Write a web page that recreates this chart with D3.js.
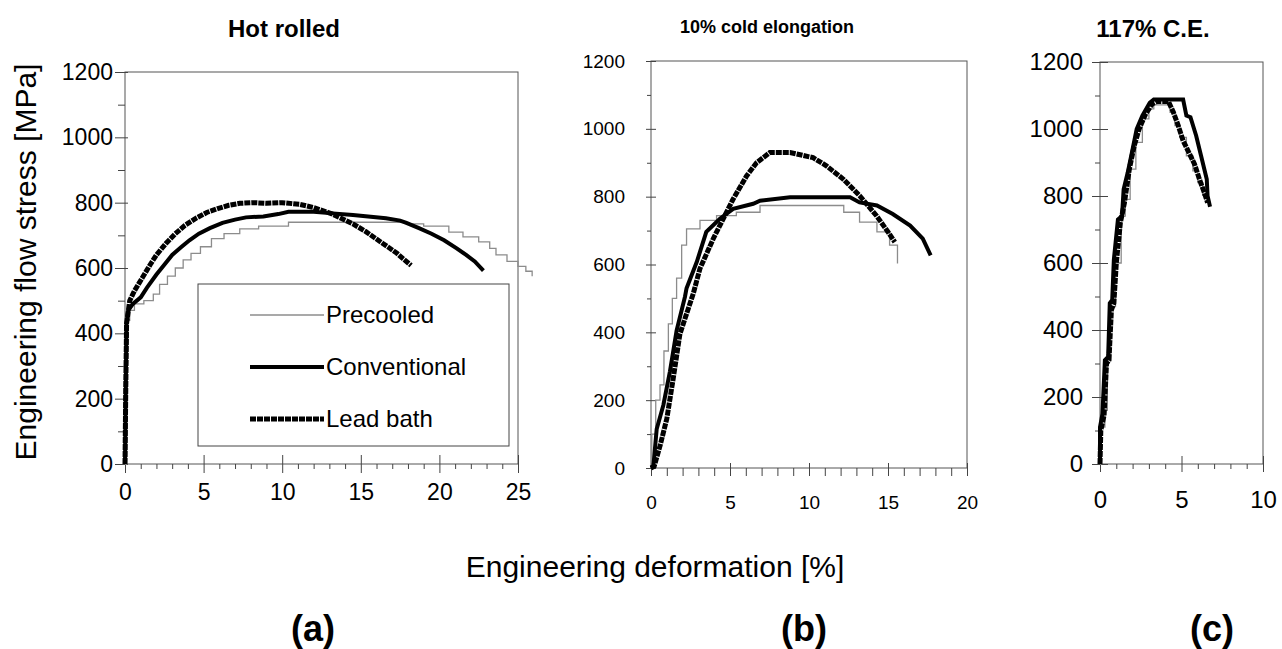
<!DOCTYPE html>
<html>
<head>
<meta charset="utf-8">
<script src="https://cdn.jsdelivr.net/npm/d3@7"></script>
<style>
  body { margin: 0; background: #fff; }
  svg { display: block; font-family: "Liberation Sans", Arial, sans-serif; }
</style>
</head>
<body>
<div id="chart"></div>
<script>
// ---- data ----
const seriesNames = ["Precooled", "Conventional", "Lead bath"];
const panelTitles = ["Hot rolled", "10% cold elongation", "117% C.E."];
const panelLetters = ["(a)", "(b)", "(c)"];
const yTicks = [0, 200, 400, 600, 800, 1000, 1200];
const xTicksA = [0, 5, 10, 15, 20, 25];
const xTicksB = [0, 5, 10, 15, 20];
const xTicksC = [0, 5, 10];

// [engineering deformation %, engineering flow stress MPa]
const hotPrecooled = [[0,0],[0.1,0],[0.1,230],[0.15,440],[0.3,470],[0.6,490],[1.2,500],[1.8,520],[2.2,550],
  [2.7,575],[3.2,600],[3.7,625],[4.2,645],[4.8,665],[5.5,690],[6.3,705],[7.3,720],[8.5,728],[10.4,740],
  [12,740],[14,740],[16,740],[17.9,735],[19,728],[20.6,710],[21.5,695],[22.5,680],[23.2,660],[23.6,640],
  [24.3,620],[25,605],[25.5,590],[25.9,575]];
const hotConventional = [[0,0],[0.05,240],[0.1,430],[0.2,470],[0.5,490],[1,510],[1.4,540],[2,580],[2.5,610],
  [3,640],[3.6,665],[4.1,685],[4.7,705],[5.4,722],[6.2,738],[7,748],[7.7,755],[8.8,758],[9.75,765],
  [10.4,772],[12,772],[13,768],[14.5,762],[16.6,752],[17.5,745],[17.9,738],[18.7,722],[19.5,705],
  [20.3,685],[21.1,660],[21.7,640],[22.25,620],[22.8,592]];
const hotLeadBath = [[0,0],[0.05,235],[0.1,430],[0.3,500],[0.6,530],[1.1,570],[1.6,610],[2,640],[2.6,675],
  [3.2,705],[3.8,730],[4.5,752],[5.2,770],[5.9,782],[6.6,792],[7.3,798],[8.2,800],[9,798],[10,800],
  [11.1,795],[12,785],[13.2,765],[14.5,735],[15.3,712],[15.9,692],[16.4,675],[16.8,662],[17.3,645],
  [17.7,628],[18.2,608]];

const ce10Precooled = [[0,0],[0.05,100],[0.3,200],[0.57,245],[0.82,345],[1.1,425],[1.35,500],[1.62,560],
  [1.94,657],[2.25,705],[3.1,730],[4.15,744],[5.4,754],[6.9,774],[11.1,774],[12.2,754],[13.2,725],
  [14.3,696],[15.1,657],[15.6,603]];
const ce10Conventional = [[0,0],[0.15,5],[0.36,115],[0.78,185],[1.2,285],[1.62,405],[2.15,505],[2.25,530],
  [2.9,608],[3.5,696],[4.36,735],[5.2,764],[6.47,779],[6.9,788],[8.8,798],[12.6,798],[13.2,783],
  [14.3,774],[15.3,749],[16.4,715],[17.2,676],[17.7,627]];
const ce10LeadBath = [[0,0],[0.2,5],[0.57,65],[1,145],[1.41,265],[1.83,395],[2.68,515],[3.1,588],[3.94,676],
  [5.2,793],[6.05,861],[6.68,900],[7.52,930],[8.8,930],[10.26,915],[11.1,891],[12.16,852],[13.2,803],
  [14.27,744],[15,696],[15.43,666]];

const ce117Precooled = [[0,0],[0.05,110],[0.3,160],[0.45,310],[0.65,470],[0.95,600],[1.3,740],[1.55,790],
  [1.85,880],[2.2,960],[2.6,1030],[3,1060],[3.3,1072],[3.9,1072],[4.3,1050],[4.6,1010],[4.9,975],
  [5.3,920],[5.7,875],[6,840],[6.3,800]];
const ce117Conventional = [[0,0],[0,110],[0.15,150],[0.3,310],[0.5,320],[0.6,480],[0.75,490],[0.85,610],
  [1.1,730],[1.35,740],[1.45,820],[1.7,870],[2,940],[2.25,1000],[2.6,1040],[3.05,1078],[3.3,1088],
  [5.1,1088],[5.3,1040],[5.55,1035],[5.9,980],[6.2,920],[6.55,850],[6.6,800],[6.75,768]];
const ce117LeadBath = [[0,0],[0.05,100],[0.25,145],[0.4,300],[0.55,310],[0.7,460],[0.85,480],[1,600],
  [1.25,720],[1.5,780],[1.8,880],[2.1,950],[2.4,1000],[2.8,1045],[3.2,1075],[3.5,1082],[4.2,1082],
  [4.5,1050],[4.8,1010],[5.1,965],[5.5,925],[5.8,895],[6.1,850],[6.4,810],[6.6,780]];

// ---- styles ----
const lineStyle = {
  "Precooled":    { stroke: "#8c8c8c", width: 1.3, dash: null,  curve: d3.curveStepAfter },
  "Conventional": { stroke: "#000",    width: 4,   dash: null,  curve: d3.curveLinear },
  "Lead bath":    { stroke: "#000",    width: 5,   dash: "6,1", curve: d3.curveLinear }
};

const W = 1282, H = 649;
const svg = d3.select("#chart").append("svg").attr("width", W).attr("height", H);

const panels = [
  { left: 125, right: 518, top: 72, bottom: 464, xMax: 25, xTicks: xTicksA, font: 23,
    yPad: 12, xPad: 20, majOut: 10, majIn: 3, minor: 7, xMajIn: 9, xMajOut: 9, xMinor: 5,
    title: panelTitles[0], titleSize: 24, titleX: 284, titleY: 37,
    data: [hotPrecooled, hotConventional, hotLeadBath] },
  { left: 651, right: 967, top: 61, bottom: 468, xMax: 20, xTicks: xTicksB, font: 19,
    yPad: 26, xPad: 28, majOut: 5, majIn: 5, minor: 4, xMajIn: 5, xMajOut: 8, xMinor: 8,
    title: panelTitles[1], titleSize: 18, titleX: 767, titleY: 33,
    data: [ce10Precooled, ce10Conventional, ce10LeadBath] },
  { left: 1100, right: 1263, top: 62, bottom: 464, xMax: 10, xTicks: xTicksC, font: 24,
    yPad: 17, xPad: 27, majOut: 8, majIn: 8, minor: 5, xMajIn: 8, xMajOut: 8, xMinor: 5,
    title: panelTitles[2], titleSize: 24, titleX: 1153, titleY: 37,
    data: [ce117Precooled, ce117Conventional, ce117LeadBath] }
];

const minorY = d3.range(100, 1200, 200);
const fmt = d3.format("d");

panels.forEach(p => {
  const x = d3.scaleLinear().domain([0, p.xMax]).range([p.left, p.right]);
  const y = d3.scaleLinear().domain([0, 1200]).range([p.bottom, p.top]);
  const minorX = d3.range(0, p.xMax + 0.001, 1).filter(v => v % 5 !== 0);
  const g = svg.append("g");

  // plot frame
  g.append("rect")
    .attr("x", p.left).attr("y", p.top)
    .attr("width", p.right - p.left).attr("height", p.bottom - p.top)
    .attr("fill", "none").attr("stroke", "#555").attr("stroke-width", 1);

  // y axis: major ticks with labels, inner half of major ticks, minor ticks
  g.append("g").attr("transform", `translate(${p.left},0)`)
    .call(d3.axisLeft(y).tickValues(yTicks).tickFormat(fmt)
      .tickSize(p.majOut).tickPadding(p.yPad - p.majOut));
  g.append("g").attr("transform", `translate(${p.left},0)`)
    .call(d3.axisRight(y).tickValues(yTicks).tickSize(p.majIn).tickFormat(""));
  g.append("g").attr("transform", `translate(${p.left},0)`)
    .call(d3.axisLeft(y).tickValues(minorY).tickSize(p.minor).tickFormat(""));

  // x axis
  g.append("g").attr("transform", `translate(0,${p.bottom})`)
    .call(d3.axisBottom(x).tickValues(p.xTicks).tickFormat(fmt)
      .tickSize(p.xMajOut).tickPadding(p.xPad - p.xMajOut));
  g.append("g").attr("transform", `translate(0,${p.bottom})`)
    .call(d3.axisTop(x).tickValues(p.xTicks).tickSize(p.xMajIn).tickFormat(""));
  g.append("g").attr("transform", `translate(0,${p.bottom})`)
    .call(d3.axisBottom(x).tickValues(minorX).tickSize(p.xMinor).tickFormat(""));

  g.selectAll(".domain").remove();
  g.selectAll(".tick line").attr("stroke", "#444");
  g.selectAll(".tick text")
    .style("font-family", '"Liberation Sans", Arial, sans-serif')
    .style("font-size", p.font + "px")
    .attr("fill", "#000");

  // curves
  seriesNames.forEach((name, i) => {
    const s = lineStyle[name];
    const line = d3.line().x(d => x(d[0])).y(d => y(d[1])).curve(s.curve);
    g.append("path")
      .datum(p.data[i])
      .attr("d", line)
      .attr("fill", "none")
      .attr("stroke", s.stroke)
      .attr("stroke-width", s.width)
      .attr("stroke-dasharray", s.dash)
      .attr("stroke-linejoin", "miter");
  });

  // panel title
  svg.append("text")
    .attr("x", p.titleX).attr("y", p.titleY)
    .attr("text-anchor", "middle")
    .style("font-size", p.titleSize + "px")
    .style("font-weight", "bold")
    .text(p.title);
});

// legend (inside panel a)
const legend = svg.append("g");
legend.append("rect")
  .attr("x", 198).attr("y", 284).attr("width", 311).attr("height", 162)
  .attr("fill", "#fff").attr("stroke", "#444").attr("stroke-width", 1);
seriesNames.forEach((name, i) => {
  const s = lineStyle[name];
  const ly = 315 + i * 52;
  legend.append("line")
    .attr("x1", 250).attr("x2", 324).attr("y1", ly).attr("y2", ly)
    .attr("stroke", s.stroke).attr("stroke-width", s.width)
    .attr("stroke-dasharray", s.dash);
  legend.append("text")
    .attr("x", 326).attr("y", ly).attr("dy", "0.35em")
    .style("font-size", "24px")
    .text(name);
});

// shared axis titles
svg.append("text")
  .attr("transform", "translate(36,262) rotate(-90)")
  .attr("text-anchor", "middle")
  .style("font-size", "30px")
  .text("Engineering flow stress [MPa]");

svg.append("text")
  .attr("x", 655).attr("y", 577)
  .attr("text-anchor", "middle")
  .style("font-size", "30px")
  .text("Engineering deformation [%]");

// panel letters
const letterX = [313, 804, 1212];
panelLetters.forEach((t, i) => {
  svg.append("text")
    .attr("x", letterX[i]).attr("y", 641)
    .attr("text-anchor", "middle")
    .style("font-size", "36px")
    .style("font-weight", "bold")
    .text(t);
});
</script>
</body>
</html>
